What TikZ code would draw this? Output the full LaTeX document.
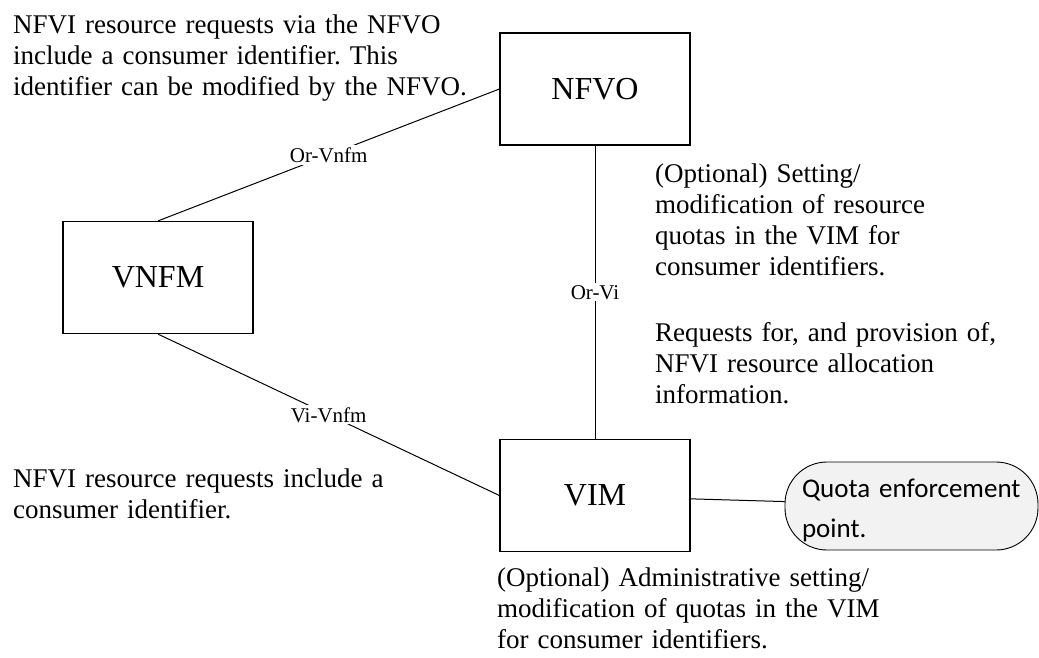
\documentclass[tikz,border=0pt]{standalone}
\usepackage{fontspec}
\setmainfont{Liberation Serif}
\newfontfamily\calibri{Carlito}
\definecolor{quotafill}{HTML}{F2F2F2}
\frenchspacing
\begin{document}
\begin{tikzpicture}[x=1pt,y=-1pt,
  box/.style={draw, line width=1.2pt, minimum width=190pt, minimum height=112pt, inner sep=0pt, font=\fontsize{32}{36}\selectfont},
  lbl/.style={fill=white, inner sep=2pt, font=\fontsize{21}{24}\selectfont},
  note/.style={anchor=base west, align=left, text width=480pt, inner sep=0pt, font=\frenchspacing\fontsize{27}{31}\selectfont},
  quotabox/.style={draw, line width=0.9pt, fill=quotafill, rounded corners=42pt, minimum width=253pt, minimum height=88pt, text width=219pt, inner xsep=17pt, inner ysep=0pt, text height=28pt, text depth=46pt, align=left, font=\calibri\fontsize{27}{40}\selectfont},
  conn/.style={line width=1pt}]
\useasboundingbox (0,0) rectangle (1039,657);
\node[box] (nfvo) at (595,89) {NFVO};
\node[box] (vnfm) at (158,277.5) {VNFM};
\node[box] (vim) at (595,495.5) {VIM};
\node[quotabox] (quota) at (911.5,506) {Quota enforcement\\point.};
\draw[conn] (nfvo.west) -- node[lbl]{Or-Vnfm} (vnfm.north);
\draw[conn] (vnfm.south) -- node[lbl]{Vi-Vnfm} (vim.west);
\draw[conn] (nfvo.south) -- node[lbl]{Or-Vi} (vim.north);
\draw[conn] (vim.-2) -- (quota.178);
\node[note] (t1) at (13,33) {NFVI resource requests via the NFVO\\include a consumer identifier. This\\identifier can be modified by the NFVO.};
\node[note] (t2) at (655,182) {(Optional) Setting/\\modification of resource\\quotas in the VIM for\\consumer identifiers.};
\node[note] (t3) at (655,341) {Requests for, and provision of,\\NFVI resource allocation\\information.};
\node[note] (t4) at (13,487) {NFVI resource requests include a\\consumer identifier.};
\node[note] (t5) at (497,586) {(Optional) Administrative setting/\\modification of quotas in the VIM\\for consumer identifiers.};
\end{tikzpicture}
\end{document}
